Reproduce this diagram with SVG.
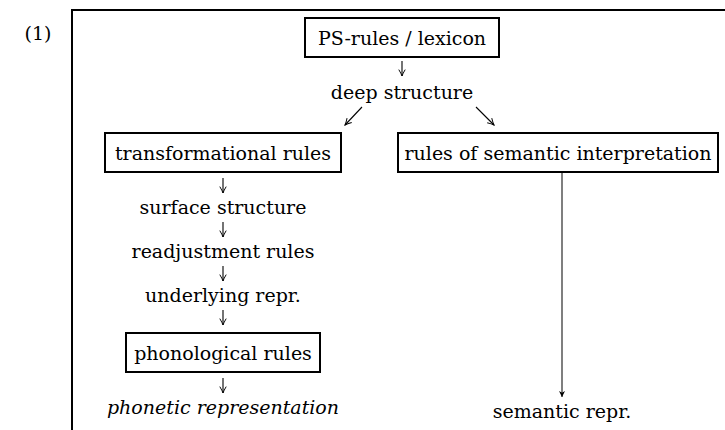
<svg xmlns="http://www.w3.org/2000/svg" width="725" height="430" viewBox="0 0 725 430">
<defs>
<style>
text{font-family:"DejaVu Serif","Liberation Serif",serif;font-size:19px;fill:#000;text-anchor:middle}
.it{font-style:italic}
.box{fill:#fff;stroke:#000;stroke-width:2}
.ar{stroke:#000;stroke-width:1.1;fill:none}
.long{stroke:#555;stroke-width:1.5;fill:none}
</style>
<marker id="v" viewBox="0 0 10 10" refX="9" refY="5" markerWidth="8" markerHeight="8" orient="auto" markerUnits="userSpaceOnUse">
<path d="M1,1 Q6,4 9,5 Q6,6 1,9" fill="none" stroke="#000" stroke-width="1.2"/>
</marker>
<marker id="f" viewBox="0 0 10 10" refX="10" refY="5" markerWidth="6" markerHeight="7" orient="auto" markerUnits="userSpaceOnUse">
<path d="M0,0 L10,5 L0,10 L3,5 Z" fill="#000"/>
</marker>
</defs>
<rect width="725" height="430" fill="#fff"/>
<text x="38" y="40">(1)</text>
<path d="M725,10 H72 V430" fill="none" stroke="#000" stroke-width="2"/>
<g id="connectors">
<line class="ar" x1="402" y1="61" x2="402" y2="76" marker-end="url(#v)"/>
<line class="ar" x1="362" y1="107" x2="345" y2="125" marker-end="url(#v)"/>
<line class="ar" x1="476" y1="107" x2="494" y2="125" marker-end="url(#v)"/>
<line class="ar" x1="223" y1="178" x2="223" y2="193" marker-end="url(#v)"/>
<line class="ar" x1="223" y1="222" x2="223" y2="237" marker-end="url(#v)"/>
<line class="ar" x1="223" y1="266" x2="223" y2="281" marker-end="url(#v)"/>
<line class="ar" x1="223" y1="310" x2="223" y2="325" marker-end="url(#v)"/>
<line class="ar" x1="223" y1="378" x2="223" y2="393" marker-end="url(#v)"/>
<line class="long" x1="562" y1="172" x2="562" y2="397" marker-end="url(#f)"/>
</g>
<g id="ps"><rect class="box" x="305" y="18" width="194" height="39"/><text x="402" y="45">PS-rules / lexicon</text></g>
<g id="deep"><text x="402" y="99">deep structure</text></g>
<g id="trans"><rect class="box" x="105" y="133" width="236" height="39"/><text x="223" y="160">transformational rules</text></g>
<g id="sem"><rect class="box" x="398" y="133" width="320" height="39"/><text x="558" y="160">rules of semantic interpretation</text></g>
<g id="surface"><text x="223" y="214">surface structure</text></g>
<g id="readj"><text x="223" y="258">readjustment rules</text></g>
<g id="under"><text x="223" y="302">underlying repr.</text></g>
<g id="phon"><rect class="box" x="126" y="333" width="194" height="39"/><text x="223" y="360">phonological rules</text></g>
<g id="phonetic"><text class="it" x="223" y="414">phonetic representation</text></g>
<g id="semrepr"><text x="562" y="418">semantic repr.</text></g>
</svg>
